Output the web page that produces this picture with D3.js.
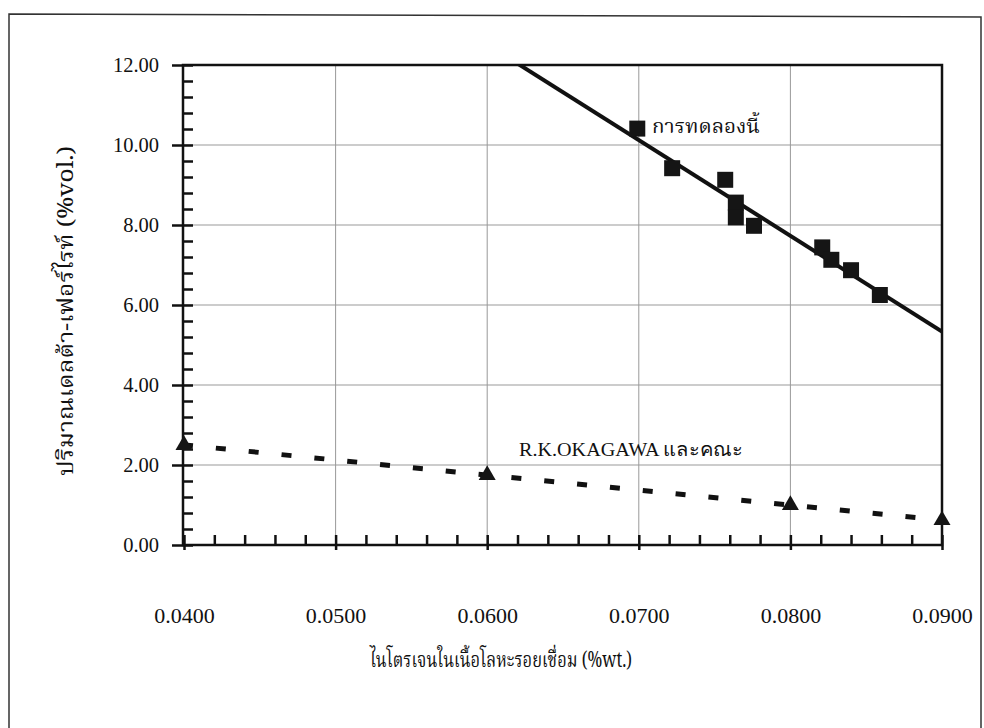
<!DOCTYPE html>
<html>
<head>
<meta charset="utf-8">
<script src="https://cdn.jsdelivr.net/npm/d3@7"></script>
<style>
  html, body { margin: 0; padding: 0; background: #fff; }
  svg { display: block; }
  .num { font-family: "Liberation Serif", "Times New Roman", serif; fill: #111; }
  .thai { font-family: "Noto Serif Thai", "Norasi", "Kinnari", "Laksaman", "Garuda", "Loma", "Noto Sans Thai Looped", "Noto Sans Thai", "Liberation Serif", serif; fill: #111; }
</style>
</head>
<body>
<svg id="chart" width="984" height="728"></svg>
<script>
// Nitrogen in weld metal (%wt.) vs delta-ferrite content (%vol.)
const xTickValues = [0.04, 0.05, 0.06, 0.07, 0.08, 0.09];
const yTickValues = [0, 2, 4, 6, 8, 10, 12];

// This work (squares)
const thisWorkN = [0.0699, 0.0722, 0.0757, 0.0764, 0.0764, 0.0776, 0.0821, 0.0827, 0.0840, 0.0859];
const thisWorkFerrite = [10.41, 9.42, 9.13, 8.56, 8.19, 7.98, 7.44, 7.13, 6.87, 6.25];

// R.K. Okagawa et al. (triangles)
const okagawaN = [0.04, 0.06, 0.08, 0.09];
const okagawaFerrite = [2.50, 1.75, 1.00, 0.62];

const labelThisWork = "การทดลองนี้";
const labelOkagawa = "R.K.OKAGAWA และคณะ";
const xTitle = "ไนโตรเจนในเนื้อโลหะรอยเชื่อม (%wt.)";
const yTitle = "ปริมาณเดลต้า-เฟอร์ไรท์ (%vol.)";

const svg = d3.select("#chart");
const plot = { left: 184, right: 942, top: 65, bottom: 545 };

const x = d3.scaleLinear().domain([0.04, 0.09]).range([plot.left, plot.right]);
const y = d3.scaleLinear().domain([0, 12]).range([plot.bottom, plot.top]);

// least-squares fit used for the trend lines
function fit(xs, ys) {
  const mx = d3.mean(xs), my = d3.mean(ys);
  let sxx = 0, sxy = 0;
  xs.forEach((v, i) => { sxx += (v - mx) ** 2; sxy += (v - mx) * (ys[i] - my); });
  const b = sxy / sxx;
  return v => my + b * (v - mx);
}

// outer frame
svg.append("path")
  .attr("d", "M9,728 L9,14 L981,17 L981,728")
  .attr("fill", "none").attr("stroke", "#333").attr("stroke-width", 1.5);

// gridlines
const grid = svg.append("g").attr("stroke", "#999").attr("stroke-width", 1);
grid.selectAll("line.h").data(yTickValues.filter(v => v > 0 && v < 12)).join("line")
  .attr("x1", plot.left).attr("x2", plot.right)
  .attr("y1", d => y(d)).attr("y2", d => y(d));
grid.selectAll("line.v").data(xTickValues.filter(v => v > 0.04 && v < 0.09)).join("line")
  .attr("y1", plot.top).attr("y2", plot.bottom)
  .attr("x1", d => x(d)).attr("x2", d => x(d));

// y axis: major ticks outward with labels, minor ticks inward
const yMinor = d3.range(0, 12.001, 0.4);
const yAxisMajor = svg.append("g").attr("transform", `translate(${plot.left - 1},0)`)
  .call(d3.axisLeft(y).tickValues(yTickValues).tickSize(11).tickPadding(13)
    .tickFormat(d3.format(".2f")));
const yAxisMinor = svg.append("g").attr("transform", `translate(${plot.left - 1},0)`)
  .call(d3.axisRight(y).tickValues(yMinor).tickSize(10).tickFormat(""));
[yAxisMajor, yAxisMinor].forEach(g => {
  g.select(".domain").remove();
  g.selectAll(".tick line").attr("stroke", "#111").attr("stroke-width", 2.5);
});
yAxisMajor.selectAll(".tick text").attr("class", "num").style("font-size", "20.5px")
  .attr("fill", "#111").attr("dy", "0.34em");

// x axis: minor ticks inward, labels far below
const xMinor = d3.range(0.04, 0.0901, 0.002);
const xAxisMajor = svg.append("g").attr("transform", `translate(0,${plot.bottom})`)
  .call(d3.axisBottom(x).tickValues(xTickValues).tickSize(5).tickPadding(57)
    .tickFormat(d3.format(".4f")));
const xAxisMinor = svg.append("g").attr("transform", `translate(0,${plot.bottom})`)
  .call(d3.axisTop(x).tickValues(xMinor).tickSize(10).tickFormat(""));
[xAxisMajor, xAxisMinor].forEach(g => {
  g.select(".domain").remove();
  g.selectAll(".tick line").attr("stroke", "#111").attr("stroke-width", 2.5);
});
xAxisMajor.selectAll(".tick text").attr("class", "num").style("font-size", "22px")
  .attr("fill", "#111");

// plot frame
svg.append("rect")
  .attr("x", plot.left - 1).attr("y", plot.top)
  .attr("width", plot.right - plot.left + 1).attr("height", plot.bottom - plot.top)
  .attr("fill", "none").attr("stroke", "#111").attr("stroke-width", 2.5);

svg.append("defs").append("clipPath").attr("id", "plotClip")
  .append("rect").attr("x", plot.left).attr("y", plot.top)
  .attr("width", plot.right - plot.left).attr("height", plot.bottom - plot.top);

// trend line, this work
const fitThis = fit(thisWorkN, thisWorkFerrite);
const line = d3.line().x(d => x(d[0])).y(d => y(d[1]));
svg.append("path")
  .attr("clip-path", "url(#plotClip)")
  .attr("d", line([[0.055, fitThis(0.055)], [0.09, fitThis(0.09)]]))
  .attr("fill", "none").attr("stroke", "#111").attr("stroke-width", 4);

// trend line, Okagawa et al.
const fitOk = fit(okagawaN, okagawaFerrite);
svg.append("path")
  .attr("d", line([[0.04, fitOk(0.04)], [0.09, fitOk(0.09)]]))
  .attr("fill", "none").attr("stroke", "#111").attr("stroke-width", 5)
  .attr("stroke-dasharray", "10,23").attr("stroke-dashoffset", 1);

// markers
const sq = d3.symbol().type(d3.symbolSquare).size(256);
svg.append("g").selectAll("path").data(thisWorkN).join("path")
  .attr("transform", (d, i) => `translate(${x(d)},${y(thisWorkFerrite[i])})`)
  .attr("d", sq).attr("fill", "#151515");

const tri = d3.symbol().type(d3.symbolTriangle).size(125);
svg.append("g").selectAll("path").data(okagawaN).join("path")
  .attr("transform", (d, i) => `translate(${x(d)},${y(okagawaFerrite[i])})`)
  .attr("d", tri).attr("fill", "#151515");

// series labels
svg.append("text").attr("class", "thai")
  .attr("x", 652).attr("y", 133).style("font-size", "20px")
  .attr("textLength", 108).attr("lengthAdjust", "spacingAndGlyphs").text(labelThisWork);
svg.append("text").attr("class", "num")
  .attr("x", 519).attr("y", 456).style("font-size", "19px")
  .attr("textLength", 224).attr("lengthAdjust", "spacingAndGlyphs").text(labelOkagawa);

// axis titles
svg.append("text").attr("class", "thai").attr("text-anchor", "middle")
  .attr("x", 501).attr("y", 667).style("font-size", "21px")
  .attr("textLength", 262).attr("lengthAdjust", "spacingAndGlyphs").text(xTitle);
svg.append("text").attr("class", "thai").attr("text-anchor", "middle")
  .attr("transform", "translate(73,311) rotate(-90)").style("font-size", "21px")
  .attr("textLength", 330).attr("lengthAdjust", "spacingAndGlyphs").text(yTitle);
</script>
</body>
</html>
